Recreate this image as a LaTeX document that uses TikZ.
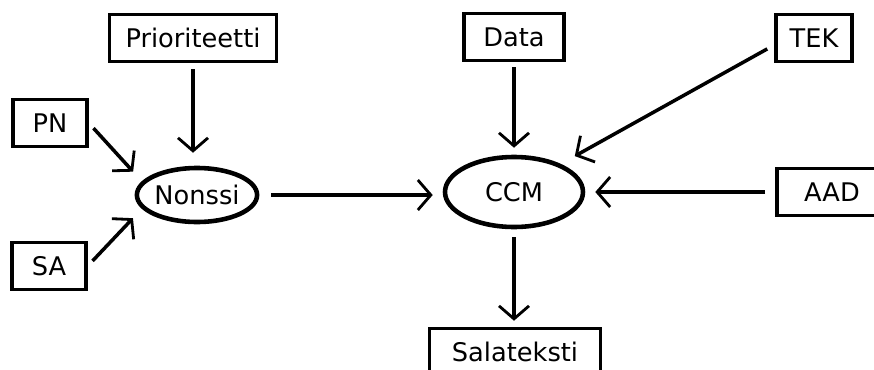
\documentclass[tikz,border=0pt]{standalone}
\usepackage{fontspec}
\setmainfont{DejaVu Sans}
\usetikzlibrary{arrows.meta,shapes.geometric}

\begin{document}
\begin{tikzpicture}[
        box/.style ={draw, line width=2pt, minimum height=0.94cm, inner xsep=0.2cm,
                     font=\fontsize{14.6}{17}\selectfont},
        oval/.style={draw, ellipse, line width=2.6pt, inner sep=0pt,
                     font=\fontsize{14.6}{17}\selectfont},
        sarr/.style={-{Straight Barb[length=0.26cm, width=0.6cm, line width=1.6pt]},
                     line width=2pt},]

    \useasboundingbox (0,0) rectangle (17.48,7.38);

    \node[box, minimum width=3.34cm] (Prio) at (3.86, 6.62) {Prioriteetti};
    \node[box, minimum width=1.48cm] (PN)   at (1.0,  4.92) {PN};
    \node[box, minimum width=1.48cm] (SA)   at (0.98, 2.06) {SA};
    \node[box, minimum width=2.0cm]  (Data) at (10.28, 6.64) {Data};
    \node[box, minimum width=1.52cm] (TEK)  at (16.28, 6.62) {TEK};
    \node[box, minimum width=2.2cm]  (AAD)  at (16.64, 3.54) {AAD};
    \node[box, minimum width=3.42cm] (Sala) at (10.3,  0.34) {Salateksti};

    \node[oval, minimum width=2.34cm, minimum height=1.08cm] (Nonssi) at (3.94, 3.48)  {Nonssi};
    \node[oval, minimum width=2.76cm, minimum height=1.4cm]  (CCM)    at (10.28, 3.54) {CCM};

    \draw[sarr, shorten <=0.12cm, shorten >=0.26cm]
        (Prio.south) -- (Prio.south |- Nonssi.north);
    \draw[sarr, shorten <=0.14cm, shorten >=0.26cm] (PN.east) -- (Nonssi.166);
    \draw[sarr, shorten <=0.14cm, shorten >=0.26cm] (SA.east) -- (Nonssi.194);
    \draw[sarr, shorten <=0.24cm, shorten >=0.2cm]
        (Nonssi.east) -- (Nonssi.east -| CCM.west);

    \draw[sarr, shorten <=0.1cm, shorten >=0.14cm] (Data.south) -- (CCM.north);
    \draw[sarr, shorten <=0.16cm, shorten >=0.32cm] (TEK.190) -- (CCM.31.5);
    \draw[sarr, shorten <=0.2cm, shorten >=0.2cm] (AAD.west) -- (CCM.east);
    \draw[sarr, shorten <=0.16cm, shorten >=0.12cm] (CCM.south) -- (CCM.south |- Sala.north);
\end{tikzpicture}
\end{document}
